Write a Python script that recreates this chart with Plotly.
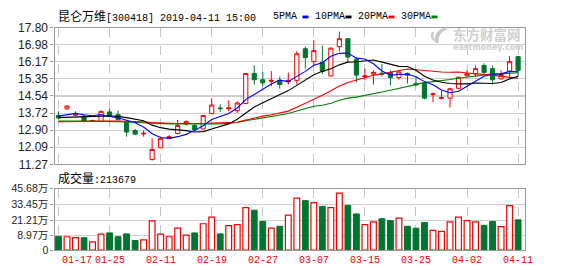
import plotly.graph_objects as go

# ---------------- data ----------------
dates = ["2019-01-17","2019-01-18","2019-01-21","2019-01-22","2019-01-23","2019-01-24","2019-01-25",
         "2019-01-28","2019-01-29","2019-01-30","2019-01-31","2019-02-01","2019-02-11","2019-02-12",
         "2019-02-13","2019-02-14","2019-02-15","2019-02-18","2019-02-19","2019-02-20","2019-02-21",
         "2019-02-22","2019-02-25","2019-02-26","2019-02-27","2019-02-28","2019-03-01","2019-03-04",
         "2019-03-05","2019-03-06","2019-03-07","2019-03-08","2019-03-11","2019-03-12","2019-03-13",
         "2019-03-14","2019-03-15","2019-03-18","2019-03-19","2019-03-20","2019-03-21","2019-03-22",
         "2019-03-25","2019-03-26","2019-03-27","2019-03-28","2019-03-29","2019-04-01","2019-04-02",
         "2019-04-03","2019-04-04","2019-04-08","2019-04-09","2019-04-10","2019-04-11"]

open_ = [13.60,13.92,13.61,13.57,13.33,13.31,13.77,13.64,13.30,12.89,12.72,11.50,12.06,12.50,12.74,
         13.19,13.12,12.96,13.69,13.96,13.92,13.83,14.17,15.61,15.31,15.23,15.28,15.21,15.28,16.79,
         16.18,16.14,15.49,16.89,17.27,16.29,15.46,15.58,15.62,15.66,15.41,15.61,15.12,15.16,14.60,
         14.42,14.43,14.90,15.50,15.58,15.99,15.84,15.35,15.72,16.41]
high = [13.80,14.10,13.80,13.64,13.40,13.83,13.92,13.83,13.34,12.96,12.89,12.51,12.59,12.66,13.39,
        13.37,13.24,13.64,14.43,14.13,14.32,14.28,15.63,15.99,15.69,15.73,15.46,15.66,16.67,16.89,
        17.20,16.94,16.84,17.61,17.30,16.37,15.84,15.76,16.06,15.76,15.76,15.66,15.46,15.18,14.70,
        14.78,14.93,15.46,15.76,15.99,16.09,15.99,15.76,16.44,16.44]
low = [13.45,13.87,13.57,13.27,13.30,13.30,13.55,13.38,12.59,12.66,12.59,11.45,12.04,12.48,12.70,
       13.12,12.90,12.94,13.67,13.77,13.80,13.72,14.15,15.08,15.00,15.00,14.88,15.08,15.08,15.84,
       15.99,15.58,15.47,16.67,16.14,15.19,15.28,15.08,15.46,15.04,15.31,15.13,15.03,14.37,14.25,
       14.37,13.98,14.85,15.46,15.46,15.53,15.08,15.31,15.43,15.46]
close = [13.48,14.05,13.70,13.34,13.36,13.80,13.57,13.40,12.81,12.71,12.75,11.98,12.51,12.59,13.12,
         13.31,12.92,13.60,14.10,13.93,13.96,14.20,15.61,15.31,15.16,15.28,15.08,15.28,16.55,16.37,
         16.70,15.71,16.82,17.27,16.39,15.53,15.49,15.66,15.58,15.41,15.68,15.53,15.06,14.43,14.63,
         14.45,14.88,15.43,15.60,15.84,15.66,15.31,15.56,16.17,15.76]

ma5 = [13.57,13.62,13.70,13.64,13.59,13.65,13.55,13.49,13.39,13.26,13.05,12.73,12.55,12.51,12.59,
       12.70,12.89,13.11,13.41,13.57,13.70,13.96,14.36,14.60,14.85,15.11,15.29,15.22,15.47,15.71,
       16.00,16.12,16.43,16.57,16.58,16.34,16.30,16.07,15.73,15.53,15.56,15.57,15.45,15.22,15.07,
       14.82,14.69,14.76,15.00,15.24,15.48,15.57,15.59,15.71,15.69]
ma10 = [13.50,13.52,13.54,13.55,13.56,13.57,13.58,13.56,13.50,13.42,13.35,13.14,13.02,12.95,12.92,
        12.88,12.81,12.83,12.96,13.08,13.20,13.42,13.73,14.01,14.21,14.41,14.62,14.79,15.04,15.28,
        15.55,15.71,15.83,16.02,16.15,16.17,16.21,16.25,16.15,16.06,15.95,15.94,15.76,15.48,15.30,
        15.19,15.13,15.11,15.11,15.15,15.15,15.13,15.18,15.35,15.47]
ma20 = [13.30,13.30,13.30,13.31,13.31,13.32,13.33,13.34,13.33,13.32,13.30,13.26,13.24,13.22,13.22,
        13.22,13.21,13.22,13.24,13.25,13.28,13.28,13.38,13.48,13.57,13.64,13.72,13.81,14.00,14.18,
        14.38,14.57,14.78,15.01,15.18,15.29,15.42,15.52,15.59,15.67,15.75,15.82,15.79,15.75,15.72,
        15.68,15.67,15.68,15.63,15.60,15.55,15.53,15.47,15.41,15.38]
ma30 = [13.33,13.34,13.34,13.34,13.33,13.33,13.32,13.31,13.29,13.27,13.25,13.22,13.21,13.20,13.20,
        13.20,13.19,13.19,13.20,13.20,13.23,13.27,13.35,13.42,13.49,13.57,13.63,13.70,13.82,13.93,
        14.04,14.09,14.19,14.33,14.43,14.48,14.55,14.62,14.72,14.81,14.90,15.02,15.11,15.17,15.22,
        15.26,15.32,15.38,15.43,15.50,15.55,15.59,15.59,15.62,15.64]

# volume in 万 (10k lots)
volume = [8.47,8.23,7.49,7.49,4.29,10.20,11.18,8.23,10.44,5.27,5.76,20.55,10.20,8.23,14.88,9.46,
          11.18,18.33,23.50,10.44,16.85,17.59,30.90,28.90,20.06,14.88,16.36,24.98,38.29,36.32,34.84,
          31.88,30.90,42.23,32.62,25.97,17.59,19.81,22.27,20.79,22.76,16.36,14.88,19.32,13.16,12.42,
          19.81,23.50,20.79,19.81,17.10,20.06,16.11,32.37,21.37]
last_volume = "213679"

price_ticks = [11.27,12.09,12.90,13.72,14.54,15.35,16.17,16.98,17.80]
vol_ticks = [8.97,21.21,33.45,45.68]
vol_axis_min = -2.11
tick_idx = list(range(0, 55, 6))
tick_labels = ["01-17","01-25","02-11","02-19","02-27","03-07","03-15","03-25","04-02","04-11"]
title_name = "昆仑万维"
title_rest = "[300418] 2019-04-11 15:00"
ma_names = ["5PMA","10PMA","20PMA","30PMA"]

# ---------------- style ----------------
W, H = 578, 276
RED = "#f00000"
GREEN = "#00752f"
MA_COLORS = ["#0000ff", "#000000", "#ff0000", "#008000"]
GRID = "#d0d0d0"
FRAME = "#999999"

def px_x(p): return p / W
def px_y(p): return 1 - p / H

fig = go.Figure()

fig.add_trace(go.Candlestick(
    x=dates, open=open_, high=high, low=low, close=close,
    xaxis="x", yaxis="y", whiskerwidth=0, hoverinfo="skip",
    increasing=dict(line=dict(color=RED, width=1), fillcolor="white"),
    decreasing=dict(line=dict(color=GREEN, width=1), fillcolor=GREEN),
))

for vals, col in zip([ma30, ma20, ma10, ma5], MA_COLORS[::-1]):
    fig.add_trace(go.Scatter(x=dates, y=vals, mode="lines", xaxis="x", yaxis="y",
                             line=dict(color=col, width=1.1), hoverinfo="skip"))

up = [c > o for o, c in zip(open_, close)]
fig.add_trace(go.Bar(
    x=dates, y=[(v - vol_axis_min) if u else None for v, u in zip(volume, up)], base=vol_axis_min,
    width=0.68, xaxis="x2", yaxis="y2",
    marker=dict(color="white", line=dict(color=RED, width=1.2)), hoverinfo="skip"))
fig.add_trace(go.Bar(
    x=dates, y=[(v - vol_axis_min) if not u else None for v, u in zip(volume, up)], base=vol_axis_min,
    width=0.68, xaxis="x2", yaxis="y2",
    marker=dict(color=GREEN, line=dict(color=GREEN, width=1)), hoverinfo="skip"))

x_dom = [px_x(54.5), px_x(525)]
xcommon = dict(type="category", range=[-0.47, 54.81], domain=x_dom,
               tickvals=[dates[i] for i in tick_idx], showticklabels=False,
               showgrid=True, griddash="dash", gridcolor="#c4c4c4", gridwidth=1,
               showline=True, mirror=True, linecolor=FRAME, linewidth=1.2,
               zeroline=False, ticks="", fixedrange=True)

fig.update_layout(
    width=W, height=H, margin=dict(l=0, r=0, t=0, b=0),
    paper_bgcolor="white", plot_bgcolor="white", showlegend=False,
    barmode="overlay", boxgap=0.3,
    xaxis=dict(anchor="y", rangeslider=dict(visible=False), **xcommon),
    xaxis2=dict(anchor="y2", matches="x", **xcommon),
    yaxis=dict(domain=[px_y(165.7), px_y(21.7)], range=[price_ticks[0], price_ticks[-1]],
               tickvals=price_ticks, ticktext=[f"{v:.2f}" for v in price_ticks],
               tickfont=dict(family="Liberation Sans, Arial", size=12, color="#222"),
               showgrid=True, gridcolor=GRID, gridwidth=1,
               showline=True, mirror=True, linecolor=FRAME, linewidth=1.2,
               ticks="outside", ticklen=3, tickcolor=FRAME, zeroline=False),
    yaxis2=dict(domain=[px_y(256), px_y(191.3)], range=[vol_axis_min, vol_ticks[-1]],
                tickvals=[vol_axis_min] + vol_ticks,
                ticktext=["0"] + [f"{v:.2f}万" for v in vol_ticks],
                tickfont=dict(family="Liberation Sans, Arial, Noto Sans CJK SC", size=10.5, color="#222"),
                showgrid=True, gridcolor=GRID, gridwidth=1,
                showline=True, mirror=True, linecolor=FRAME, linewidth=1.2,
                ticks="outside", ticklen=3, tickcolor=FRAME, zeroline=False),
)

# darker middle line of price panel
fig.add_shape(type="line", xref="x domain", yref="y", x0=0, x1=1,
              y0=price_ticks[4], y1=price_ticks[4], line=dict(color="#9a9a9a", width=1.5), layer="below")

MONO = "Liberation Mono, DejaVu Sans Mono"
CJK = "Noto Sans CJK SC"
ann = []
ann.append(dict(x=px_x(56), y=px_y(9), xref="paper", yref="paper", xanchor="left", yanchor="middle",
                showarrow=False, font=dict(family=MONO, size=10, color="#000"),
                text=f'<span style="font-family:{CJK};font-size:12px">{title_name}</span>{title_rest}'))
leg_x = [271, 313, 356, 399]
bar_x = [302.5, 345.5, 388.5, 431.5]
for name, lx, bx, col in zip(ma_names, leg_x, bar_x, MA_COLORS):
    ann.append(dict(x=px_x(lx), y=px_y(9.5), xref="paper", yref="paper", xanchor="left", yanchor="middle",
                    showarrow=False, font=dict(family=MONO, size=10, color="#000"), text=name))
    fig.add_shape(type="rect", xref="paper", yref="paper", x0=px_x(bx), x1=px_x(bx + 6),
                  y0=px_y(12), y1=px_y(9), line=dict(width=0), fillcolor=col)
ann.append(dict(x=px_x(56), y=px_y(180), xref="paper", yref="paper", xanchor="left", yanchor="middle",
                showarrow=False, font=dict(family=MONO, size=10, color="#000"),
                text=f'<span style="font-family:{CJK};font-size:12px">成交量</span>:{last_volume}'))
for k, (i, lab) in enumerate(zip(tick_idx, tick_labels)):
    ann.append(dict(x=dates[i], xref="x2", y=px_y(267.5), yref="paper",
                    xanchor="left" if k == 0 else "center", xshift=1 if k == 0 else 0,
                    yanchor="middle", showarrow=False,
                    font=dict(family=MONO, size=10, color=RED), text=lab))

# watermark (logo swirl + text)
def pth(pts_cmds):
    out = []
    for cmd, coords in pts_cmds:
        s = cmd
        for j in range(0, len(coords), 2):
            s += f" {px_x(coords[j]):.5f},{px_y(coords[j+1]):.5f}"
        out.append(s)
    return " ".join(out) + " Z"

logo1 = pth([("M", [446, 21]), ("Q", [433, 25, 435, 38]), ("L", [439, 38]), ("Q", [437, 28, 447, 23.5])])
logo2 = pth([("M", [432, 26]), ("Q", [429, 32, 434, 36]), ("L", [435.5, 35]), ("Q", [432, 32, 434, 26.5])])
for pth_s in (logo1, logo2):
    fig.add_shape(type="path", xref="paper", yref="paper", path=pth_s,
                  fillcolor="#c8c8c8", line=dict(width=0), layer="above")
ann.append(dict(x=px_x(487), y=px_y(28.5), xref="paper", yref="paper", xanchor="center", yanchor="middle",
                showarrow=False, font=dict(family=CJK, size=13.5, color="#d0d0d0"), text="<b>东方财富网</b>"))
ann.append(dict(x=px_x(488), y=px_y(42.5), xref="paper", yref="paper", xanchor="center", yanchor="middle",
                showarrow=False, font=dict(family="DejaVu Sans", size=8, color="#d0d0d0"),
                text="<b>eastmoney.com</b>"))
fig.update_layout(annotations=ann)

fig.write_html("out.html")
